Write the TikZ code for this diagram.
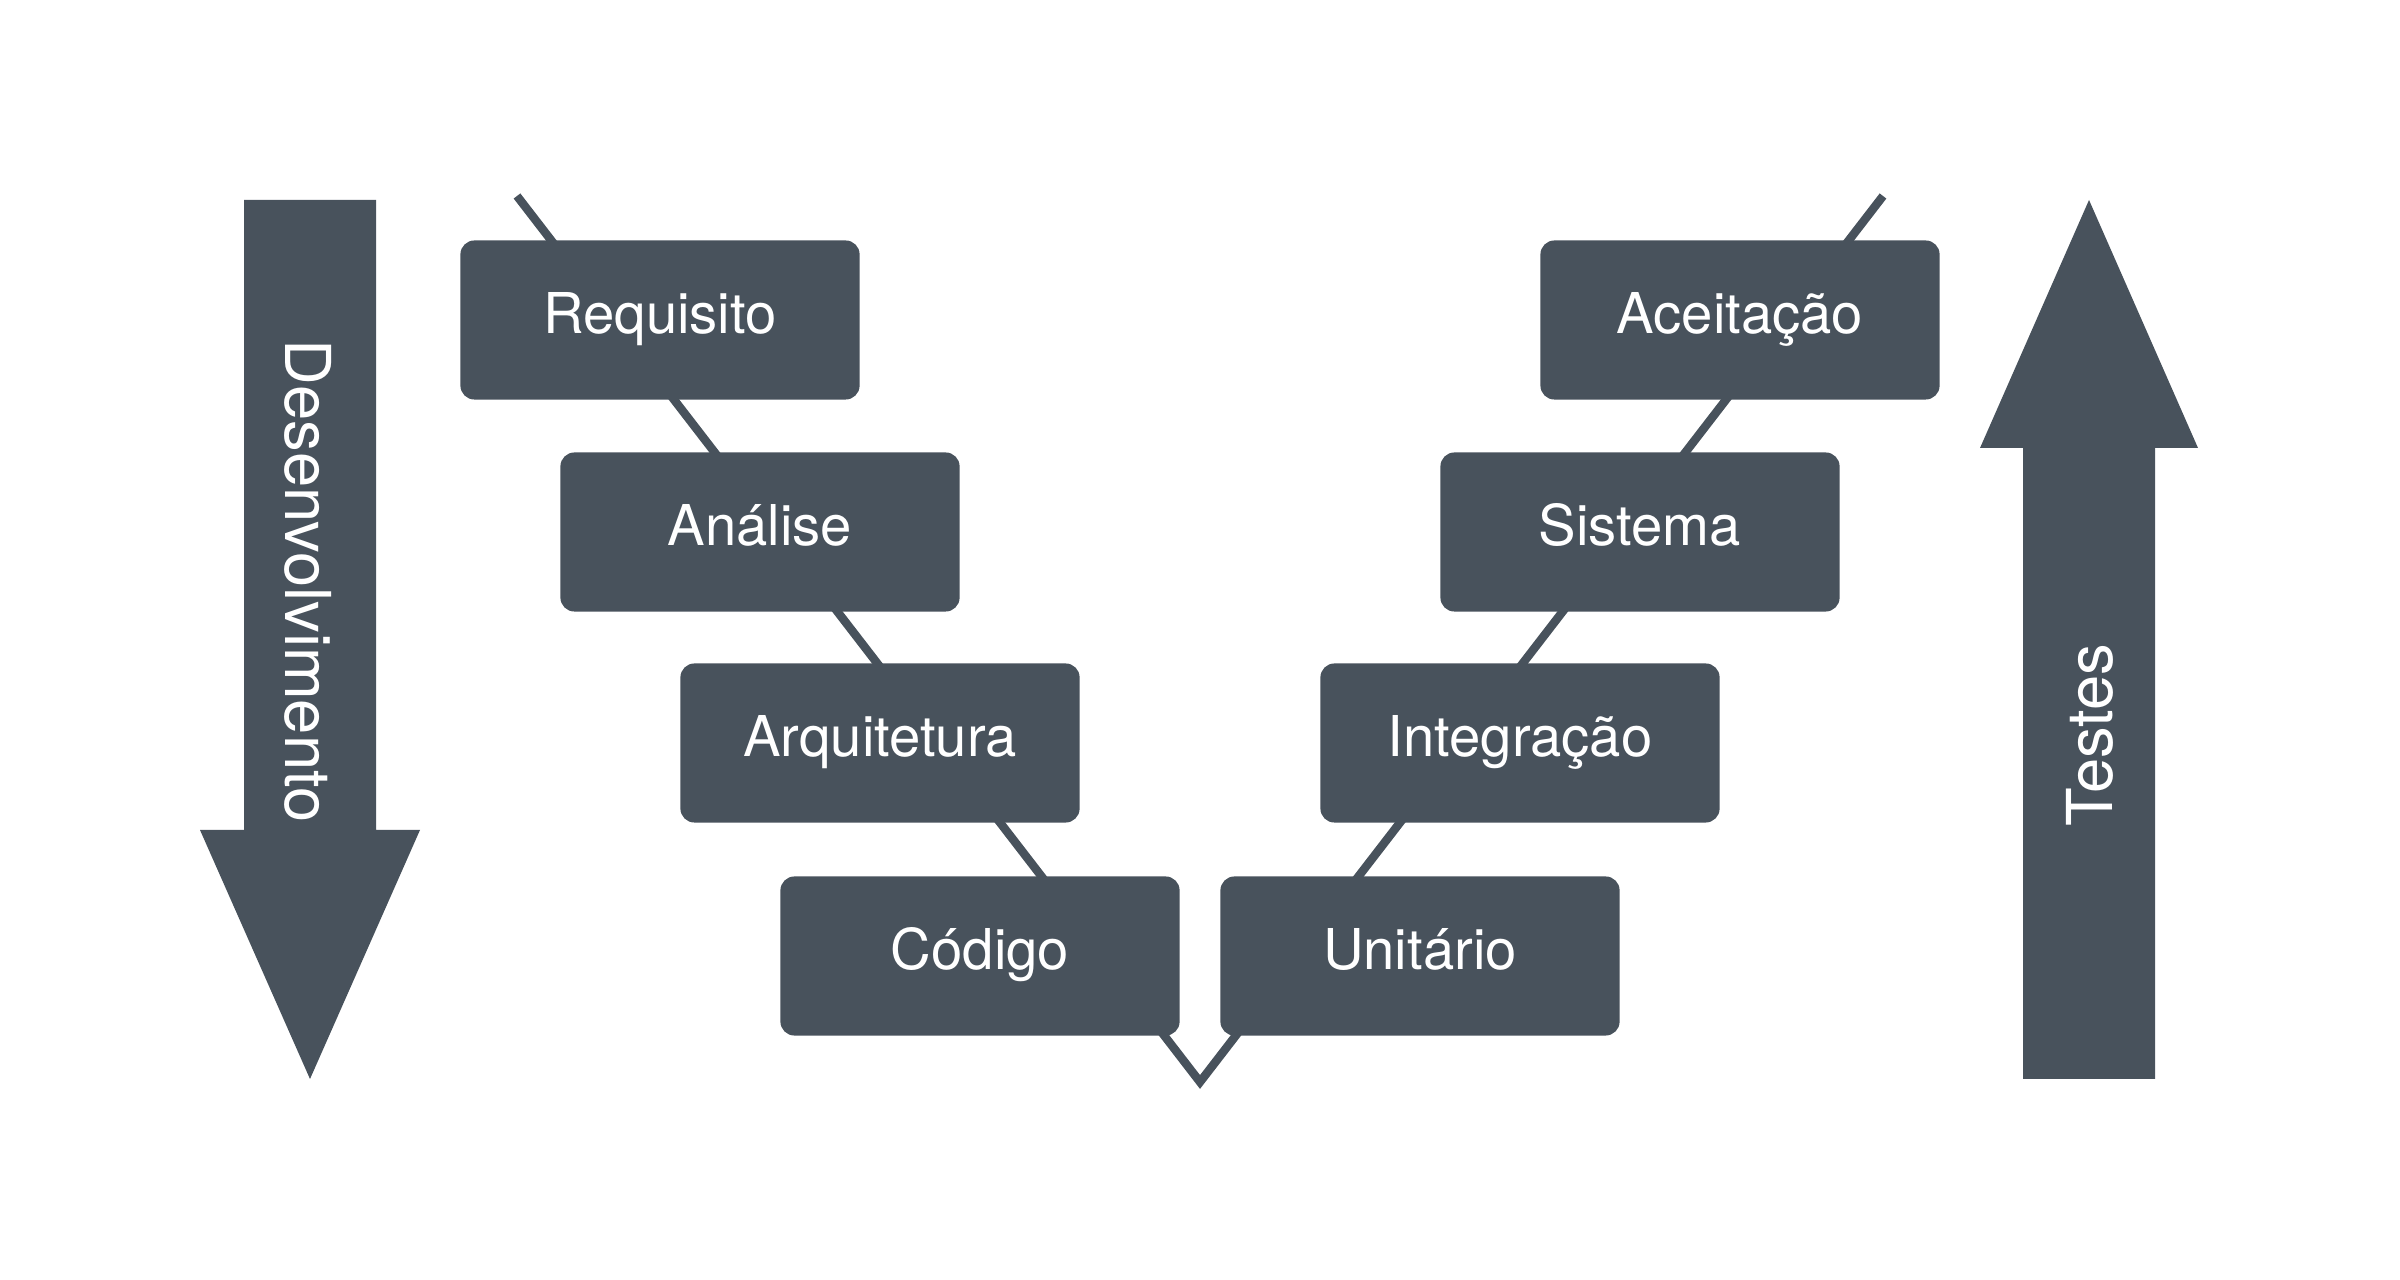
\documentclass[tikz,border=0pt]{standalone}
\usepackage{fontspec}
\setmainfont{TeX Gyre Heros}
\definecolor{slate}{RGB}{72,82,92}
\tikzset{
  stage/.style={fill=slate, text=white, rounded corners=0.14cm, inner sep=0pt,
    minimum width=3.99cm, minimum height=1.59cm, text height=0.95em, text depth=0.2em,
    font=\fontsize{16}{19}\selectfont},
  vline/.style={draw=slate, line width=2.4pt},
  flow/.style={text=white, inner sep=0pt, font=\fontsize{18}{21}\selectfont}
}
\begin{document}
\begin{tikzpicture}[x=0.01cm,y=-0.01cm]
  \useasboundingbox (0,0) rectangle (2400,1280);
  % the V behind the boxes
  \coordinate (vl) at (517,196);
  \coordinate (vb) at (1200,1082);
  \coordinate (vr) at (1883,196);
  \draw [vline] (vl) -- (vb) -- (vr);
  % left side
  \node [stage] (req) at (660,320) {Requisito};
  \node [stage] (ana) at (760,532) {Análise};
  \node [stage] (arq) at (880,743) {Arquitetura};
  \node [stage] (cod) at (980,956) {Código};
  % right side
  \node [stage] (uni) at (1420,956) {Unitário};
  \node [stage] (int) at (1520,743) {Integração};
  \node [stage] (sis) at (1640,532) {Sistema};
  \node [stage] (ace) at (1740,320) {Aceitação};
  % big arrows
  \fill [slate] (244,200) -- (376,200) -- (376,830) -- (420,830) -- (310,1079) -- (200,830) -- (244,830) -- cycle;
  \node [flow, rotate=-90] (dev) at (308,581) {Desenvolvimento};
  \fill [slate] (2089,200) -- (2198,448) -- (2155,448) -- (2155,1079) -- (2023,1079) -- (2023,448) -- (1980,448) -- cycle;
  \node [flow, rotate=90] (tst) at (2090,735) {Testes};
\end{tikzpicture}
\end{document}
